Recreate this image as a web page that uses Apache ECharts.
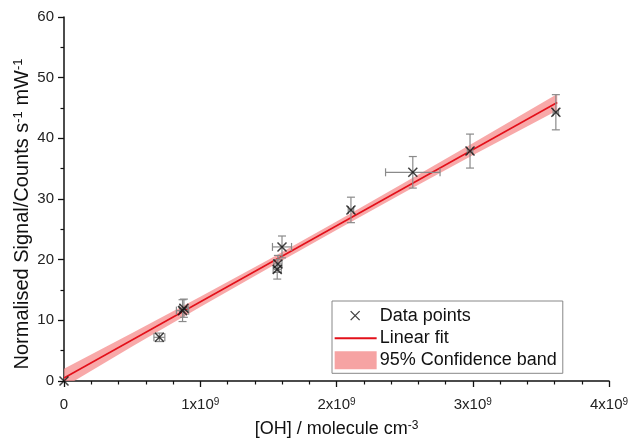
<!DOCTYPE html>
<html>
<head>
<meta charset="utf-8">
<script src="https://cdn.jsdelivr.net/npm/echarts@6/dist/echarts.min.js"></script>
<style>
  html, body { margin: 0; padding: 0; background: #fff; }
  #chart { width: 629px; height: 438px; }
</style>
</head>
<body>
<div id="chart"></div>
<script>
// measured points, [OH] in molecule cm-3
const ohConc = [0, 0.70e9, 0.87e9, 0.88e9, 1.565e9, 1.57e9, 1.60e9, 2.106e9, 2.56e9, 2.98e9, 3.61e9];
const signal = [0, 7.2, 11.6, 12.0, 18.4, 19.3, 22.1, 28.2, 34.4, 37.9, 44.3];
const ohErr = [0, 0.04e9, 0.045e9, 0.03e9, 0.03e9, 0.03e9, 0.07e9, 0.02e9, 0.2e9, 0.02e9, 0.02e9];
const signalErr = [0, 0.7, 1.8, 1.5, 1.6, 1.4, 1.8, 2.1, 2.6, 2.8, 2.9];

// linear fit end points
const fitX = [0, 3.62e9];
const fitY = [0.5, 45.9];

// 95% confidence band edges
const bandX = [0, 0.5e9, 1e9, 1.5e9, 2e9, 2.5e9, 3e9, 3.62e9];
const bandUpper = [2.0, 7.9, 13.9, 20.0, 26.3, 32.7, 39.2, 47.3];
const bandLower = [-1.0, 5.7, 12.2, 18.6, 24.9, 31.1, 37.2, 44.6];

const xTicks = [0, 1e9, 2e9, 3e9, 4e9];
const xTickLabels = ['0', '{n|1x10}{s|9}', '{n|2x10}{s|9}', '{n|3x10}{s|9}', '{n|4x10}{s|9}'];
const yTicks = [0, 10, 20, 30, 40, 50, 60];

const chart = echarts.init(document.getElementById('chart'));

const points = ohConc.map((x, i) => [x, signal[i], ohErr[i], signalErr[i]]);
const fitData = fitX.map((x, i) => [x, fitY[i]]);
const bandData = bandX.map((x, i) => [x, bandUpper[i], bandLower[i]]);

const crossPath = 'path://M0,0L10,10M10,0L0,10';
// same cross with empty margin so the legend draws it small
const legendCross = 'path://M0,0M42,18M16,4.5L25,13.5M25,4.5L16,13.5';
const legendLine = 'path://M0,8L42,8L42,10L0,10Z';

chart.setOption({
  animation: false,
  textStyle: { fontFamily: 'Liberation Sans, Arial, sans-serif' },
  grid: { left: 64, right: 20, top: 17, bottom: 57, outerBoundsMode: 'none' },
  legend: {
    orient: 'vertical',
    left: 332,
    top: 301,
    itemWidth: 42,
    itemHeight: 18,
    itemGap: 4,
    padding: [5, 6, 4, 2],
    borderColor: '#888',
    borderWidth: 1,
    textStyle: { fontSize: 18, color: '#111', padding: [0, 0, 0, -2] },
    data: [
      { name: 'Data points', icon: legendCross, itemStyle: { color: 'transparent', borderColor: '#111', borderWidth: 1.3 } },
      { name: 'Linear fit', icon: legendLine, itemStyle: { color: '#e3101a', borderWidth: 0 } },
      { name: '95% Confidence band', icon: 'rect', itemStyle: { color: '#f6a3a3' } }
    ]
  },
  xAxis: {
    type: 'value',
    min: 0,
    max: 4e9,
    interval: 1e9,
    name: '{n|[OH] / molecule cm}{s|-3}',
    nameLocation: 'middle',
    nameMoveOverlap: false,
    nameGap: 39,
    nameTextStyle: {
      rich: {
        n: { fontSize: 18, color: '#111' },
        s: { fontSize: 12, color: '#111', verticalAlign: 'top', padding: [0, 0, 7, 0] }
      }
    },
    axisLine: { lineStyle: { color: '#111', width: 1.5 } },
    axisTick: { length: 6, lineStyle: { color: '#111', width: 1.3 } },
    minorTick: { show: true, splitNumber: 5, length: 3.5, lineStyle: { color: '#111', width: 1.2 } },
    splitLine: { show: false },
    axisLabel: {
      margin: 16,
      formatter: (v) => xTickLabels[xTicks.indexOf(v)],
      rich: {
        n: { fontSize: 15, color: '#222' },
        s: { fontSize: 10, color: '#222', verticalAlign: 'top', padding: [0, 0, 6, 0] }
      },
      fontSize: 15,
      color: '#222'
    }
  },
  yAxis: {
    type: 'value',
    min: 0,
    max: 60,
    interval: 10,
    name: '{n|Normalised Signal/Counts s}{s|-1}{n| mW}{s|-1}',
    nameLocation: 'middle',
    nameMoveOverlap: false,
    nameGap: 31,
    nameRotate: 90,
    nameTextStyle: {
      padding: [0, 30, 0, 0],
      rich: {
        n: { fontSize: 20, color: '#111' },
        s: { fontSize: 13, color: '#111', verticalAlign: 'top', padding: [0, 0, 8, 0] }
      }
    },
    axisLine: { show: true, lineStyle: { color: '#111', width: 1.5 } },
    axisTick: { show: true, length: 6, lineStyle: { color: '#111', width: 1.3 } },
    minorTick: { show: true, splitNumber: 2, length: 3.5, lineStyle: { color: '#111', width: 1.2 } },
    splitLine: { show: false },
    axisLabel: {
      margin: 10,
      fontSize: 15,
      color: '#222',
      formatter: (v) => (yTicks.includes(v) ? String(v) : '')
    }
  },
  series: [
    {
      name: '95% Confidence band',
      type: 'custom',
      clip: true,
      itemStyle: { color: '#f6a3a3' },
      renderItem: (params, api) => {
        if (params.dataIndex !== 0) return null;
        const upper = bandData.map((d) => api.coord([d[0], d[1]]));
        const lower = bandData.map((d) => api.coord([d[0], d[2]])).reverse();
        return {
          type: 'polygon',
          shape: { points: upper.concat(lower) },
          style: { fill: 'rgba(245, 140, 140, 0.75)' }
        };
      },
      data: bandData,
      z: 1
    },
    {
      name: 'Linear fit',
      type: 'line',
      data: fitData,
      showSymbol: false,
      symbol: 'none',
      lineStyle: { color: '#e3101a', width: 1.6 },
      itemStyle: { color: '#e3101a' },
      z: 3
    },
    {
      name: 'Error bars',
      type: 'custom',
      clip: false,
      renderItem: (params, api) => {
        const x = api.value(0);
        const y = api.value(1);
        const dx = api.value(2);
        const dy = api.value(3);
        if (!dx && !dy) return null;
        const top = api.coord([x, y + dy]);
        const bot = api.coord([x, y - dy]);
        const lft = api.coord([x - dx, y]);
        const rgt = api.coord([x + dx, y]);
        const cap = 4;
        const style = { stroke: '#8a8a8a', lineWidth: 1.2 };
        return {
          type: 'group',
          children: [
            { type: 'line', shape: { x1: top[0], y1: top[1], x2: bot[0], y2: bot[1] }, style },
            { type: 'line', shape: { x1: top[0] - cap, y1: top[1], x2: top[0] + cap, y2: top[1] }, style },
            { type: 'line', shape: { x1: bot[0] - cap, y1: bot[1], x2: bot[0] + cap, y2: bot[1] }, style },
            { type: 'line', shape: { x1: lft[0], y1: lft[1], x2: rgt[0], y2: rgt[1] }, style },
            { type: 'line', shape: { x1: lft[0], y1: lft[1] - cap, x2: lft[0], y2: lft[1] + cap }, style },
            { type: 'line', shape: { x1: rgt[0], y1: rgt[1] - cap, x2: rgt[0], y2: rgt[1] + cap }, style }
          ]
        };
      },
      data: points,
      z: 4
    },
    {
      name: 'Data points',
      type: 'scatter',
      clip: false,
      symbol: crossPath,
      symbolSize: 9,
      data: points.map((p) => [p[0], p[1]]),
      itemStyle: { color: 'transparent', borderColor: '#111', borderWidth: 1.5 },
      z: 5
    }
  ]
});
</script>
</body>
</html>
